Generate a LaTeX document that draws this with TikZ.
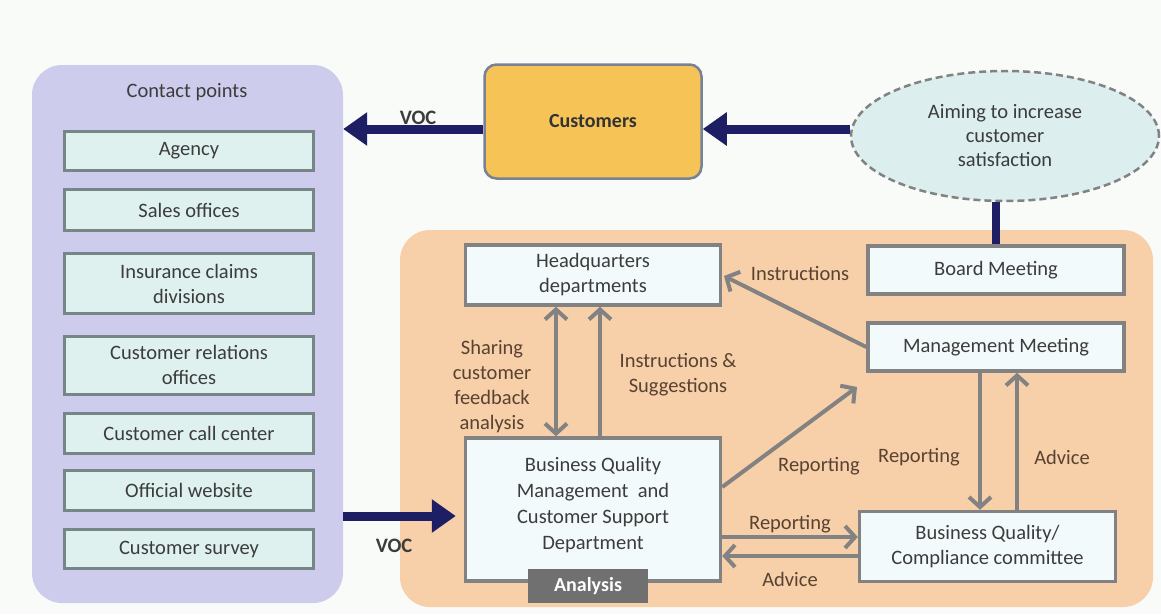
\documentclass[tikz,border=0pt]{standalone}
\usepackage{fontspec}
\setmainfont{Carlito}
\usetikzlibrary{arrows.meta,shapes.geometric,calc}
\definecolor{bgc}{RGB}{249,251,249}
\definecolor{lav}{RGB}{206,204,236}
\definecolor{peach}{RGB}{247,207,168}
\definecolor{cpfill}{RGB}{222,241,238}
\definecolor{cpdraw}{RGB}{118,134,134}
\definecolor{wbox}{RGB}{243,250,251}
\definecolor{gdraw}{RGB}{130,130,130}
\definecolor{navy}{RGB}{30,30,100}
\definecolor{custfill}{RGB}{246,196,86}
\definecolor{custdraw}{RGB}{120,130,150}
\definecolor{ellfill}{RGB}{220,238,238}
\definecolor{textc}{RGB}{60,60,60}
\definecolor{labc}{RGB}{88,66,50}
\definecolor{anfill}{RGB}{112,112,112}
\begin{document}
\begin{tikzpicture}[x=1pt,y=-1pt,
  font=\fontsize{20.5}{25}\selectfont,
  panel/.style={rounded corners=30pt, inner sep=0pt},
  cpbox/.style={draw=cpdraw, fill=cpfill, line width=3pt, minimum width=249pt, inner sep=0pt, text=textc, align=center},
  wb/.style={draw=gdraw, fill=wbox, line width=3.5pt, inner sep=0pt, text=textc, align=center},
  navyarrow/.style={draw=navy, line width=9pt, -{Triangle[length=24pt,width=32pt]}},
  garrow/.style={draw=gdraw, line width=4pt, -{Straight Barb[length=10pt,width=22pt]}},
  gdouble/.style={draw=gdraw, line width=4pt, {Straight Barb[length=10pt,width=22pt]}-{Straight Barb[length=10pt,width=22pt]}},
  lab/.style={text=labc, align=center, inner sep=1pt},
  voclab/.style={text=textc, font=\fontsize{20.5}{24}\selectfont\bfseries, inner sep=1pt}
]
\useasboundingbox (0,0) rectangle (1161,614);
\fill[bgc] (0,0) rectangle (1161,614);

% panels
\node[panel, fill=lav, minimum width=311pt, minimum height=538pt] (cp) at (187.5,334) {};
\node[text=textc] (cptitle) at (187,92) {Contact points};
\node[panel, fill=peach, minimum width=753pt, minimum height=377pt] (op) at (776.5,418.5) {};

% contact point boxes
\node[cpbox, minimum height=39pt] (agency) at (189,151) {Agency};
\node[cpbox, minimum height=41pt] (sales) at (189,210) {Sales offices};
\node[cpbox, minimum height=60pt] (claims) at (189,283.5) {Insurance claims\\divisions};
\node[cpbox, minimum height=58pt] (crel) at (189,365) {Customer relations\\offices};
\node[cpbox, minimum height=40pt] (call) at (189,433.5) {Customer call center};
\node[cpbox, minimum height=40pt] (web) at (189,490) {Official website};
\node[cpbox, minimum height=39pt] (survey) at (189,549) {Customer survey};

% top
\node[draw=custdraw, fill=custfill, line width=2.5pt, rounded corners=12pt, minimum width=217pt, minimum height=114pt, text=black!80, font=\fontsize{20}{24}\selectfont\bfseries] (cust) at (593,121.5) {Customers};
\node[ellipse, draw=gdraw, dashed, dash pattern=on 7pt off 4pt, line width=2.5pt, fill=ellfill, minimum width=308pt, minimum height=130pt, text=textc, align=center, inner sep=0pt, font=\fontsize{20.5}{24}\selectfont] (ell) at (1005,136) {Aiming to increase\\customer\\satisfaction};

% orange panel boxes
\node[wb, minimum width=255pt, minimum height=60pt] (hq) at (593,275) {Headquarters\\departments};
\node[wb, minimum width=255pt, minimum height=143pt] (bqm) at (593,509.5) {};
\node[text=textc, align=center, font=\fontsize{20.5}{26}\selectfont] (bqmtext) at (593,505) {Business Quality\\Management\ \ and\\Customer Support\\Department};
\node[fill=anfill, minimum width=120pt, minimum height=34pt, inner sep=0pt, text=white, font=\fontsize{20}{24}\selectfont\bfseries] (analysis) at (588,586) {Analysis};
\node[wb, minimum width=256pt, minimum height=48pt] (board) at (996,270) {Board Meeting};
\node[wb, minimum width=256pt, minimum height=48pt] (mgmt) at (996,347) {Management Meeting};
\node[wb, minimum width=256pt, minimum height=70pt] (bqc) at (987.5,546.5) {Business Quality/\\Compliance committee};

% helper coordinates
\coordinate (vocy) at (0,129);
\coordinate (vocy2) at (0,516);
\coordinate (xa) at (556,0);
\coordinate (xb) at (600,0);
\coordinate (xc) at (980,0);
\coordinate (xd) at (1017,0);
\coordinate (yrep) at (0,537);
\coordinate (yadv) at (0,556);
\coordinate (yrd) at (0,487);
\coordinate (rtip) at (857,387);
\coordinate (itip) at (724,276);

% navy connectors
\draw[navyarrow] (cust.west |- vocy) -- (cp.east |- vocy);
\draw[navyarrow] (ell.west |- vocy) -- (cust.east |- vocy);
\draw[draw=navy, line width=8pt] (board.north |- ell.south) -- (board.north);
\draw[navyarrow, shorten >=8pt] (cp.east |- vocy2) -- (bqm.west |- vocy2);

% gray connectors
\draw[gdouble] (xa |- hq.south) -- (xa |- bqm.north);
\draw[garrow] (xb |- bqm.north) -- (xb |- hq.south);
\draw[garrow] (mgmt.west) -- (itip);
\draw[garrow] (bqm.east |- yrd) -- (rtip);
\draw[garrow] (xc |- mgmt.south) -- (xc |- bqc.north);
\draw[garrow] (xd |- bqc.north) -- (xd |- mgmt.south);
\draw[garrow] (bqm.east |- yrep) -- (bqc.west |- yrep);
\draw[garrow] (bqc.west |- yadv) -- (bqm.east |- yadv);

% labels
\node[voclab] (voc1) at (418,118) {VOC};
\node[voclab] (voc2) at (394,546) {VOC};
\node[lab] (lshare) at (492,387) {Sharing\\customer\\feedback\\analysis};
\node[lab] (linstr) at (678,375) {Instructions \&\\Suggestions};
\node[lab] (linst2) at (800,273) {Instructions};
\node[lab] (lrep1) at (819,466) {Reporting};
\node[lab] (lrep2) at (919,457) {Reporting};
\node[lab] (ladv1) at (1062,457) {Advice};
\node[lab] (lrep3) at (790,524) {Reporting};
\node[lab] (ladv2) at (790,579) {Advice};
\end{tikzpicture}
\end{document}
